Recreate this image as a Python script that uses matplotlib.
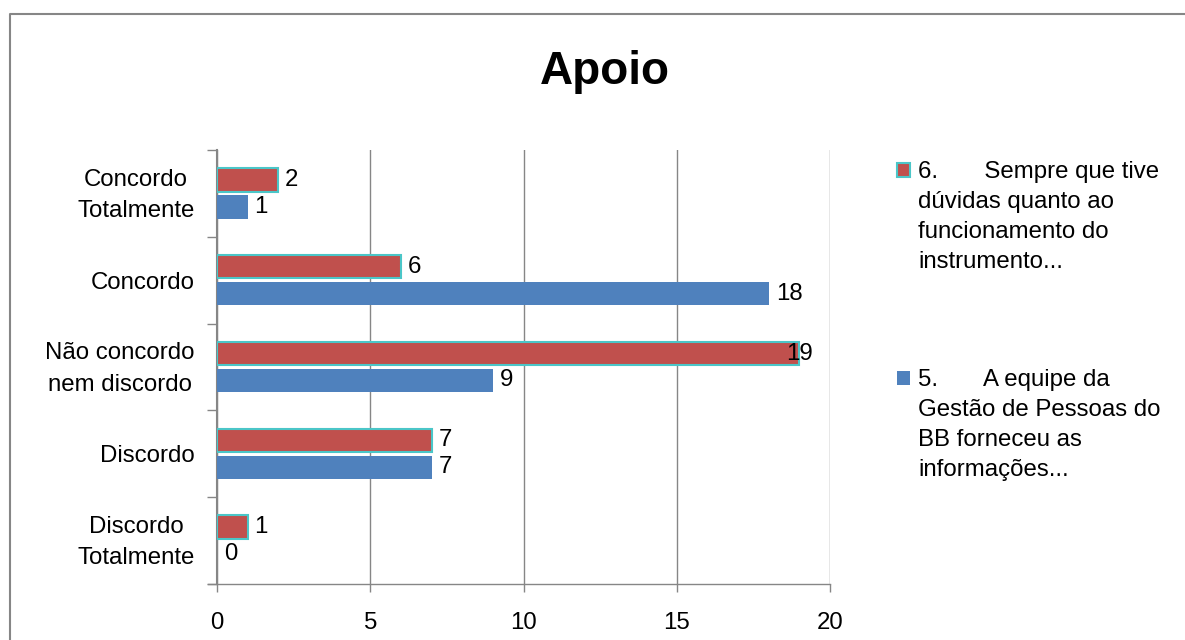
import matplotlib.pyplot as plt
from matplotlib.patches import Rectangle
from matplotlib.lines import Line2D
import numpy as np

plt.rcParams['font.family'] = ['Liberation Sans', 'DejaVu Sans']

# categorias de baixo para cima
categorias = ['Discordo\nTotalmente', 'Discordo', 'Não concordo\nnem discordo',
              'Concordo', 'Concordo\nTotalmente']
q6 = [1, 7, 19, 6, 2]   # 6. Sempre que tive dúvidas...
q5 = [0, 7, 9, 18, 1]   # 5. A equipe da Gestão de Pessoas...
legenda_q6 = ['6.       Sempre que tive', 'dúvidas quanto ao',
              'funcionamento do', 'instrumento...']
legenda_q5 = ['5.       A equipe da', 'Gestão de Pessoas do',
              'BB forneceu as', 'informações...']
xticks = [0, 5, 10, 15, 20]

VERMELHO = '#C0504D'
AZUL = '#4F81BD'
CIANO = '#4BC6C8'
CINZA = '#868686'
FS = 17.3

W, H = 1185, 640
fig = plt.figure(figsize=(W / 100, H / 100), dpi=100)
ax = fig.add_axes([217 / W, 1 - 584 / H, (830 - 217) / W, (584 - 150) / H])

y = np.arange(len(categorias))
alt = 0.27
off = 0.155
ax.barh(y + off, q6, height=alt, color=VERMELHO, edgecolor=CIANO, linewidth=1.5, zorder=3)
ax.barh(y - off, q5, height=alt, color=AZUL, zorder=3)

ax.set_xlim(0, 20)
ax.set_ylim(-0.5, len(categorias) - 0.5)

# rótulos de valor
for serie, dy in ((q6, off), (q5, -off)):
    for yi, v in zip(y, serie):
        if v >= 19:
            ax.annotate(str(v), (20, yi + dy), xytext=(-12, 0), textcoords='offset points',
                        ha='right', va='center', fontsize=FS, zorder=4)
        else:
            ax.annotate(str(v), (v, yi + dy), xytext=(5, 0), textcoords='offset points',
                        ha='left', va='center', fontsize=FS, zorder=4)

# eixo x
ax.set_xticks(xticks)
ax.tick_params(axis='x', length=6, width=1, color=CINZA, pad=14, labelsize=FS)
ax.grid(axis='x', color=CINZA, linewidth=1, zorder=0)

# eixo y: traços nos limites das categorias, rótulos no centro
ax.set_yticks(np.arange(-0.5, len(categorias), 1))
ax.set_yticklabels([])
ax.tick_params(axis='y', which='major', length=7, width=1, color=CINZA)
pos_rot = [yi + (0.06 if '\n' in c else 0) for yi, c in zip(y, categorias)]
ax.set_yticks(pos_rot, minor=True)
ax.set_yticklabels(categorias, minor=True, fontsize=FS)
ax.tick_params(axis='y', which='minor', length=0, pad=16)
for lb in ax.get_yticklabels(minor=True):
    lb.set_multialignment('center')
    lb.set_linespacing(1.55)

for s in ('top', 'right'):
    ax.spines[s].set_visible(False)
ax.spines['left'].set_color(CINZA)
ax.spines['left'].set_linewidth(1.5)
ax.spines['bottom'].set_color(CINZA)
ax.spines['bottom'].set_linewidth(1)
ax.spines['bottom'].set_bounds(-0.3, 20)
ax.spines['bottom'].set_zorder(5)

# título
fig.text(605 / W, 1 - 72 / H, 'Apoio', fontsize=33, fontweight='bold',
         ha='center', va='center')

# legenda
for linhas, cor, borda, ytop in ((legenda_q6, VERMELHO, CIANO, 170),
                                 (legenda_q5, AZUL, None, 378)):
    fig.patches.append(Rectangle((897 / W, 1 - (ytop + 7) / H), 13 / W, 14 / H,
                                 transform=fig.transFigure, facecolor=cor,
                                 edgecolor=borda if borda else cor,
                                 linewidth=1.5 if borda else 0))
    fig.text(918 / W, 1 - (ytop - 9) / H, '\n'.join(linhas), fontsize=FS,
             ha='left', va='top', linespacing=1.47)

# moldura do gráfico (lados superior e esquerdo)
x0, y0 = 9.5 / W, 1 - 13.5 / H
fig.add_artist(Line2D([x0, x0, 1.0], [0, y0, y0], transform=fig.transFigure,
                      color=CINZA, linewidth=1.5))

fig.savefig('out.png', dpi=100)
